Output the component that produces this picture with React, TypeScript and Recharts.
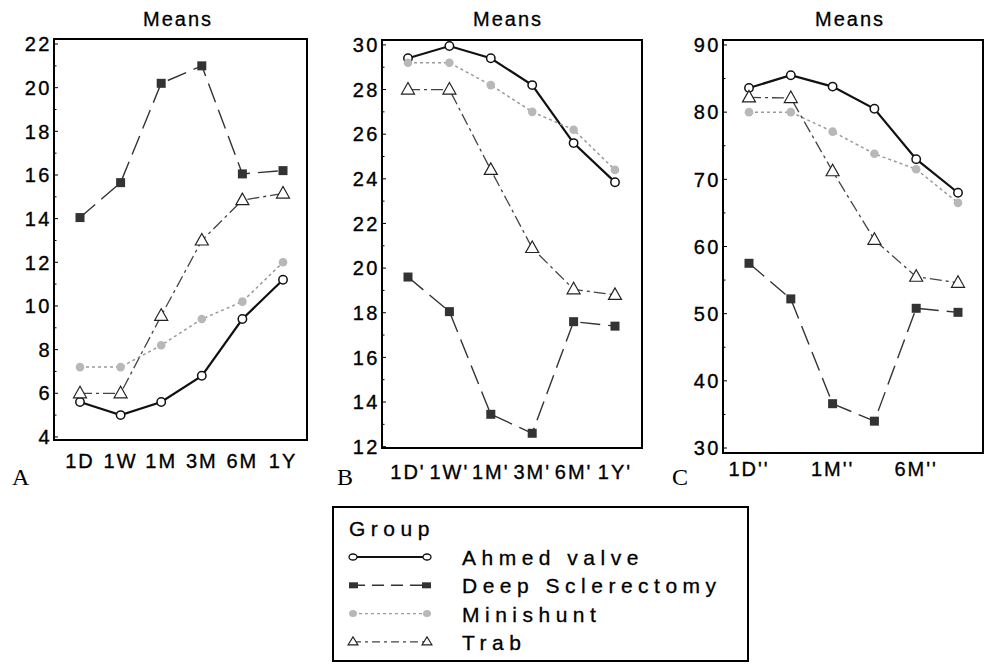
import React from "react";
import { LineChart, Line, XAxis, YAxis } from "recharts";

// ---- data: panel A
const catsA = ["1D", "1W", "1M", "3M", "6M", "1Y"];
const ahmedA = [5.6, 5.0, 5.6, 6.8, 9.4, 11.2];
const deepA = [14.05, 15.65, 20.2, 21.0, 16.05, 16.2];
const miniA = [7.2, 7.2, 8.2, 9.4, 10.2, 12.0];
const trabA = [6.0, 6.0, 9.55, 13.0, 14.85, 15.15];
const majorA = [4, 6, 8, 10, 12, 14, 16, 18, 20, 22];
const minorA = [5, 7, 9, 11, 13, 15, 17, 19, 21];

// ---- data: panel B
const catsB = ["1D'", "1W'", "1M'", "3M'", "6M'", "1Y'"];
const ahmedB = [29.4, 29.95, 29.4, 28.2, 25.6, 23.85];
const deepB = [19.6, 18.05, 13.45, 12.6, 17.6, 17.4];
const miniB = [29.2, 29.2, 28.2, 27.0, 26.2, 24.4];
const trabB = [28.0, 28.0, 24.4, 20.9, 19.05, 18.8];
const majorB = [12, 14, 16, 18, 20, 22, 24, 26, 28, 30];
const minorB = [13, 15, 17, 19, 21, 23, 25, 27, 29];

// ---- data: panel C
const catsC = ["1D''", "1W''", "1M''", "3M''", "6M''", "1Y''"];
const ahmedC = [83.6, 85.5, 83.8, 80.5, 73.0, 68.0];
const deepC = [57.5, 52.2, 36.6, 34.0, 50.8, 50.2];
const miniC = [80.0, 80.0, 77.1, 73.8, 71.5, 66.5];
const trabC = [82.2, 82.1, 71.2, 61.0, 55.5, 54.6];
const majorC = [30, 40, 50, 60, 70, 80, 90];
const minorC = [35, 45, 55, 65, 75, 85];

const groups = ["Ahmed valve", "Deep Sclerectomy", "Minishunt", "Trab"];

const FONT = "'Liberation Sans', Arial, sans-serif";
const W = 984;
const H = 664;
const YW = 40;
const XH = 30;

const circleDot = (p: any) => (
  <circle key={`a${p.index}`} cx={p.cx} cy={p.cy} r={4.2} fill="#fff" stroke="#111" strokeWidth={1.5} />
);
const squareDot = (p: any) => (
  <rect key={`d${p.index}`} x={p.cx - 4.5} y={p.cy - 4.5} width={9} height={9} fill="#333" />
);
const greyDot = (p: any) => (
  <circle key={`m${p.index}`} cx={p.cx} cy={p.cy} r={4.3} fill="#b8b8b8" />
);
const triDot = (p: any) => (
  <polygon
    key={`t${p.index}`}
    points={`${p.cx},${p.cy - 7} ${p.cx - 6.5},${p.cy + 4.5} ${p.cx + 6.5},${p.cy + 4.5}`}
    fill="#fff"
    stroke="#222"
    strokeWidth={1.2}
  />
);

type PanelProps = {
  cats: string[];
  ahmed: number[];
  deep: number[];
  mini: number[];
  trab: number[];
  major: number[];
  minor: number[];
  box: { left: number; right: number; top: number; bottom: number };
  domain: [number, number];
  pad: { left: number; right: number };
  xMargin: number;
  xInterval: number;
};

function Panel(props: PanelProps) {
  const { cats, ahmed, deep, mini, trab, major, minor, box, domain, pad, xMargin, xInterval } = props;
  const rows = cats.map((c, i) => ({ cat: c, ahmed: ahmed[i], deep: deep[i], mini: mini[i], trab: trab[i] }));
  const ticks = [...major, ...minor].sort((a, b) => a - b);
  const axisStyle = { stroke: "#000", strokeWidth: 2 };

  const yTick = (p: any) => {
    const v = p.payload.value;
    const isMajor = major.includes(v);
    return (
      <g key={`yt${v}`}>
        <line x1={box.left} x2={box.left + (isMajor ? 4 : 2.5)} y1={p.y} y2={p.y} stroke="#000" strokeWidth={1} />
        {isMajor && (
          <text
            x={box.left - 2}
            y={p.y}
            dy="0.36em"
            textAnchor="end"
            fontSize={20}
            fill="#000"
            stroke="#000"
            strokeWidth={0.35}
            fontFamily={FONT}
            letterSpacing={2.5}
          >
            {v}
          </text>
        )}
      </g>
    );
  };

  return (
    <div style={{ position: "absolute", left: 0, top: 0 }}>
      <LineChart
        width={W}
        height={H}
        data={rows}
        margin={{ top: box.top, left: box.left - YW, right: W - box.right, bottom: H - box.bottom - XH }}
      >
        <XAxis
          dataKey="cat"
          padding={pad}
          tickLine={false}
          tickSize={0}
          tickMargin={xMargin}
          interval={xInterval}
          axisLine={axisStyle}
          height={XH}
          tick={{ fill: "#000", stroke: "#000", strokeWidth: 0.35, fontSize: 20, fontFamily: FONT, letterSpacing: 2 }}
        />
        <YAxis
          type="number"
          domain={domain}
          ticks={ticks}
          interval={0}
          allowDataOverflow
          width={YW}
          tickLine={false}
          tickSize={0}
          axisLine={axisStyle}
          tick={yTick}
        />
        <Line dataKey="ahmed" type="linear" stroke="#111" strokeWidth={2.2} dot={circleDot} activeDot={false} isAnimationActive={false} />
        <Line dataKey="deep" type="linear" stroke="#333" strokeWidth={1.4} strokeDasharray="20 8" dot={squareDot} activeDot={false} isAnimationActive={false} />
        <Line dataKey="mini" type="linear" stroke="#9a9a9a" strokeWidth={1.5} strokeDasharray="3 3" dot={greyDot} activeDot={false} isAnimationActive={false} />
        <Line dataKey="trab" type="linear" stroke="#444" strokeWidth={1.3} strokeDasharray="12 4 3 4" dot={triDot} activeDot={false} isAnimationActive={false} />
      </LineChart>
      <svg width={W} height={H} style={{ position: "absolute", left: 0, top: 0, pointerEvents: "none" }}>
        <rect
          x={box.left}
          y={box.top}
          width={box.right - box.left}
          height={box.bottom - box.top}
          fill="none"
          stroke="#000"
          strokeWidth={2}
        />
      </svg>
    </div>
  );
}

function LegendSample({ y, idx }: { y: number; idx: number }) {
  const x1 = 353;
  const x2 = 427;
  if (idx === 0)
    return (
      <g>
        <line x1={x1} x2={x2} y1={y} y2={y} stroke="#111" strokeWidth={2} />
        <ellipse cx={x1} cy={y} rx={4} ry={3} fill="#fff" stroke="#111" strokeWidth={1.3} />
        <ellipse cx={x2} cy={y} rx={4} ry={3} fill="#fff" stroke="#111" strokeWidth={1.3} />
      </g>
    );
  if (idx === 1)
    return (
      <g>
        <line x1={x1} x2={x2} y1={y} y2={y} stroke="#333" strokeWidth={1.4} strokeDasharray="12 7" />
        <rect x={x1 - 4} y={y - 3} width={9} height={6} fill="#333" />
        <rect x={x2 - 5} y={y - 3} width={9} height={6} fill="#333" />
      </g>
    );
  if (idx === 2)
    return (
      <g>
        <line x1={x1} x2={x2} y1={y} y2={y} stroke="#9a9a9a" strokeWidth={1.3} strokeDasharray="3 3" />
        <ellipse cx={x1} cy={y} rx={4} ry={3.5} fill="#b8b8b8" />
        <ellipse cx={x2} cy={y} rx={4} ry={3.5} fill="#b8b8b8" />
      </g>
    );
  return (
    <g>
      <line x1={x1} x2={x2} y1={y} y2={y} stroke="#444" strokeWidth={1.2} strokeDasharray="8 4 3 4" />
      <polygon points={`${x1},${y - 5} ${x1 - 5},${y + 3} ${x1 + 5},${y + 3}`} fill="#fff" stroke="#222" strokeWidth={1.1} />
      <polygon points={`${x2},${y - 5} ${x2 - 5},${y + 3} ${x2 + 5},${y + 3}`} fill="#fff" stroke="#222" strokeWidth={1.1} />
    </g>
  );
}

export default function App() {
  return (
    <div style={{ position: "absolute", left: 0, top: 0, width: W, height: H, background: "#fff" }}>
      <Panel
        cats={catsA}
        ahmed={ahmedA}
        deep={deepA}
        mini={miniA}
        trab={trabA}
        major={majorA}
        minor={minorA}
        box={{ left: 54, right: 307, top: 39, bottom: 440 }}
        domain={[3.86, 22.23]}
        pad={{ left: 26, right: 24 }}
        xMargin={14}
        xInterval={0}
      />
      <Panel
        cats={catsB}
        ahmed={ahmedB}
        deep={deepB}
        mini={miniB}
        trab={trabB}
        major={majorB}
        minor={minorB}
        box={{ left: 382, right: 642, top: 40, bottom: 448 }}
        domain={[11.94, 30.22]}
        pad={{ left: 26, right: 27 }}
        xMargin={17}
        xInterval={0}
      />
      <Panel
        cats={catsC}
        ahmed={ahmedC}
        deep={deepC}
        mini={miniC}
        trab={trabC}
        major={majorC}
        minor={minorC}
        box={{ left: 723, right: 983, top: 40, bottom: 453 }}
        domain={[29.26, 90.74]}
        pad={{ left: 26, right: 25 }}
        xMargin={9}
        xInterval={1}
      />
      <svg width={W} height={H} style={{ position: "absolute", left: 0, top: 0 }}>
        {[178, 508, 850].map((cx, i) => (
          <text
            key={`t${i}`}
            x={cx}
            y={26}
            textAnchor="middle"
            fontSize={20}
            fontFamily={FONT}
            letterSpacing={2}
            fill="#000"
            stroke="#000"
            strokeWidth={0.3}
          >
            Means
          </text>
        ))}
        {["A", "B", "C"].map((l, i) => (
          <text key={l} x={[12, 337, 672][i]} y={485} fontSize={24} fontFamily="'Liberation Serif', 'Times New Roman', serif" fill="#000">
            {l}
          </text>
        ))}
        <rect x={333} y={507} width={415} height={154} fill="none" stroke="#000" strokeWidth={2} />
        <text x={349} y={536} fontSize={21} fontFamily={FONT} letterSpacing={5.5} fill="#000" stroke="#000" strokeWidth={0.3}>
          Group
        </text>
        {groups.map((g, i) => {
          const cy = 557 + i * 28.3;
          return (
            <g key={g}>
              <LegendSample y={cy} idx={i} />
              <text x={462} y={cy + 8} fontSize={21} fontFamily={FONT} letterSpacing={5.5} fill="#000" stroke="#000" strokeWidth={0.3}>
                {g}
              </text>
            </g>
          );
        })}
      </svg>
    </div>
  );
}
